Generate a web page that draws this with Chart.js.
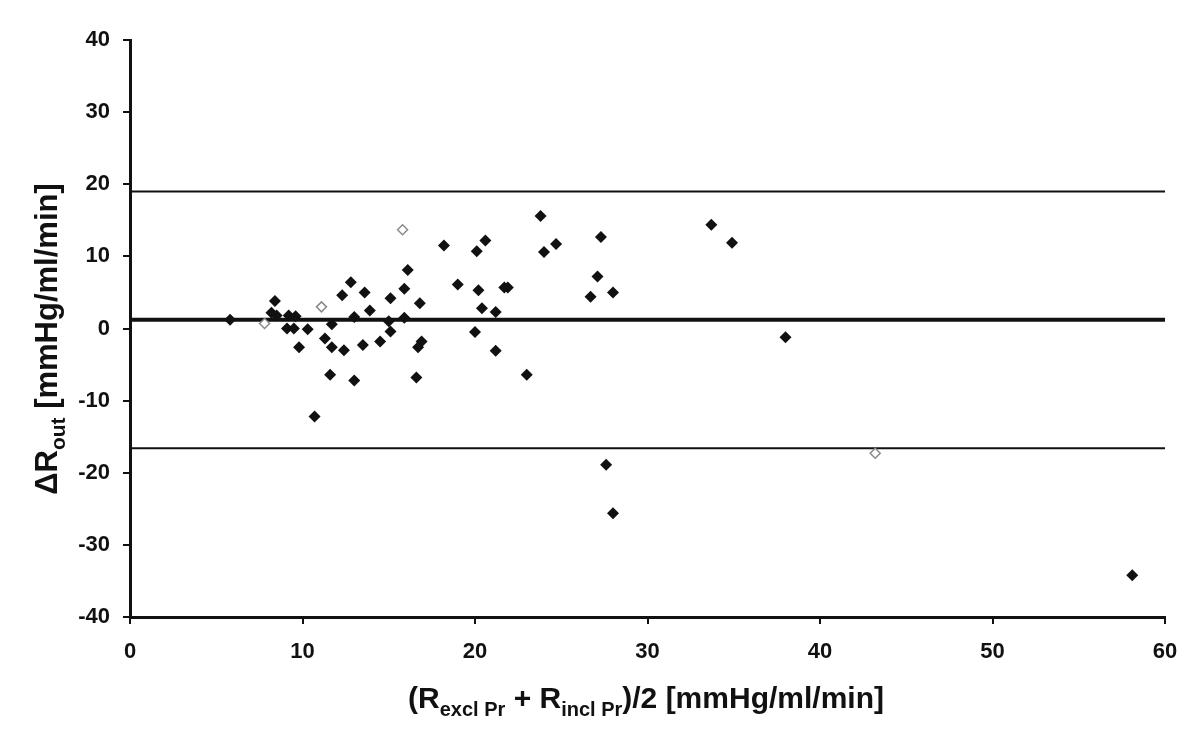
<!DOCTYPE html>
<html>
<head>
<meta charset="utf-8">
<script src="https://cdn.jsdelivr.net/npm/chart.js@4.4.1/dist/chart.umd.min.js"></script>
<style>
  body { margin: 0; background: #fff; }
  canvas { display: block; }
</style>
</head>
<body>
<canvas id="grafico" width="1200" height="746"></canvas>
<script>
// mean difference (x) vs difference (y), filled markers
var meanX = [5.8, 8.2, 8.5, 8.4, 9.2, 9.6, 9.1, 9.5, 9.8, 10.3, 10.7, 11.3, 11.7, 11.7, 11.6,
    12.4, 12.3, 12.8, 13.0, 13.0, 13.6, 13.9, 13.5, 14.5, 15.0, 15.1, 15.1, 16.1, 15.9, 15.9,
    16.8, 16.9, 16.7, 16.6, 18.2, 19.0, 20.1, 20.6, 20.2, 20.4, 21.2, 20.0, 21.2, 21.7, 21.9,
    23.0, 23.8, 24.0, 24.7, 27.3, 27.1, 26.7, 28.0, 27.6, 28.0, 33.7, 34.9, 38.0, 58.1];
var diffY = [1.2, 2.2, 1.8, 3.8, 1.8, 1.7, 0.0, 0.0, -2.6, -0.1, -12.2, -1.4, 0.6, -2.6, -6.4,
    -3.0, 4.6, 6.4, 1.6, -7.2, 5.0, 2.5, -2.3, -1.8, 1.0, 4.2, -0.4, 8.1, 5.5, 1.5,
    3.5, -1.8, -2.6, -6.8, 11.5, 6.1, 10.7, 12.2, 5.3, 2.8, 2.3, -0.5, -3.1, 5.7, 5.7,
    -6.4, 15.6, 10.6, 11.7, 12.7, 7.2, 4.4, 5.0, -18.9, -25.6, 14.4, 11.9, -1.2, -34.2];
// hollow (grey) markers
var meanXopen = [7.8, 11.1, 15.8, 43.2];
var diffYopen = [0.7, 3.0, 13.7, -17.3];
// upper limit, mean, lower limit
var limiti = [19.0, 1.2, -16.6];
var spessori = [2, 4, 2];
var xTicks = [0, 10, 20, 30, 40, 50, 60];
var yTicks = [-40, -30, -20, -10, 0, 10, 20, 30, 40];

function punti(xs, ys) {
    return xs.map(function(x, i) { return {x: x, y: ys[i]}; });
}

var datasets = [{
    data: punti(meanX, diffY),
    pointStyle: 'rectRot',
    pointRadius: 6,
    backgroundColor: '#111',
    borderColor: '#111',
    borderWidth: 0
}, {
    data: punti(meanXopen, diffYopen),
    pointStyle: 'rectRot',
    pointRadius: 5,
    backgroundColor: '#fff',
    borderColor: '#8a8a8a',
    borderWidth: 1.5
}];
limiti.forEach(function(v, i) {
    datasets.push({
        data: [{x: xTicks[0], y: v}, {x: xTicks[xTicks.length - 1], y: v}],
        showLine: true,
        pointRadius: 0,
        borderColor: '#111',
        borderWidth: spessori[i]
    });
});

var famiglia = 'Liberation Sans, Arial, sans-serif';
var fontTick = {family: famiglia, size: 22, weight: 'bold'};

// draws text runs with subscripts, centred at (cx, cy)
function scriviRuns(ctx, runs, cx, cy) {
    var tot = 0;
    runs.forEach(function(r) {
        ctx.font = 'bold ' + r[1] + 'px ' + famiglia;
        r.w = ctx.measureText(r[0]).width;
        tot += r.w;
    });
    var x = cx - tot / 2;
    ctx.textAlign = 'left';
    ctx.textBaseline = 'alphabetic';
    runs.forEach(function(r) {
        ctx.font = 'bold ' + r[1] + 'px ' + famiglia;
        ctx.fillText(r[0], x, cy + r[2]);
        x += r.w;
    });
}

var titoli = {
    id: 'titoli',
    afterDraw: function(chart) {
        var ctx = chart.ctx;
        ctx.save();
        ctx.fillStyle = '#111';
        scriviRuns(ctx, [['(R', 30, 0], ['excl Pr', 20, 8], [' + R', 30, 0], ['incl Pr', 20, 8], [')/2 [mmHg/ml/min]', 30, 0]],
            646, 708);
        ctx.translate(57, 339);
        ctx.rotate(-Math.PI / 2);
        scriviRuns(ctx, [['\u0394R', 31, 0], ['out', 21, 8], [' [mmHg/ml/min]', 31, 0]], 0, 0);
        ctx.restore();
    }
};

var chart = new Chart(document.getElementById('grafico'), {
    type: 'scatter',
    data: {datasets: datasets},
    options: {
        responsive: false,
        animation: false,
        layout: {padding: {top: 40, right: 35, left: 0, bottom: 0}},
        plugins: {legend: {display: false}, tooltip: {enabled: false}},
        scales: {
            x: {
                type: 'linear', min: -0.001, max: 60,
                afterBuildTicks: function(s) { s.ticks = xTicks.map(function(v) { return {value: v}; }); },
                ticks: {color: '#111', font: fontTick, padding: 15, callback: function(v) { return v; }},
                grid: {drawOnChartArea: false, color: '#111', lineWidth: 2, tickLength: 7},
                border: {color: '#111', width: 3},
                afterFit: function(s) { s.height = 129; }
            },
            y: {
                min: -40, max: 40,
                afterBuildTicks: function(s) { s.ticks = yTicks.map(function(v) { return {value: v}; }); },
                ticks: {color: '#111', font: fontTick, padding: 13},
                grid: {drawOnChartArea: false, color: '#111', lineWidth: 2, tickLength: 7},
                border: {color: '#111', width: 3},
                afterFit: function(s) { s.width = 130; }
            }
        }
    },
    plugins: [titoli]
});
</script>
</body>
</html>
